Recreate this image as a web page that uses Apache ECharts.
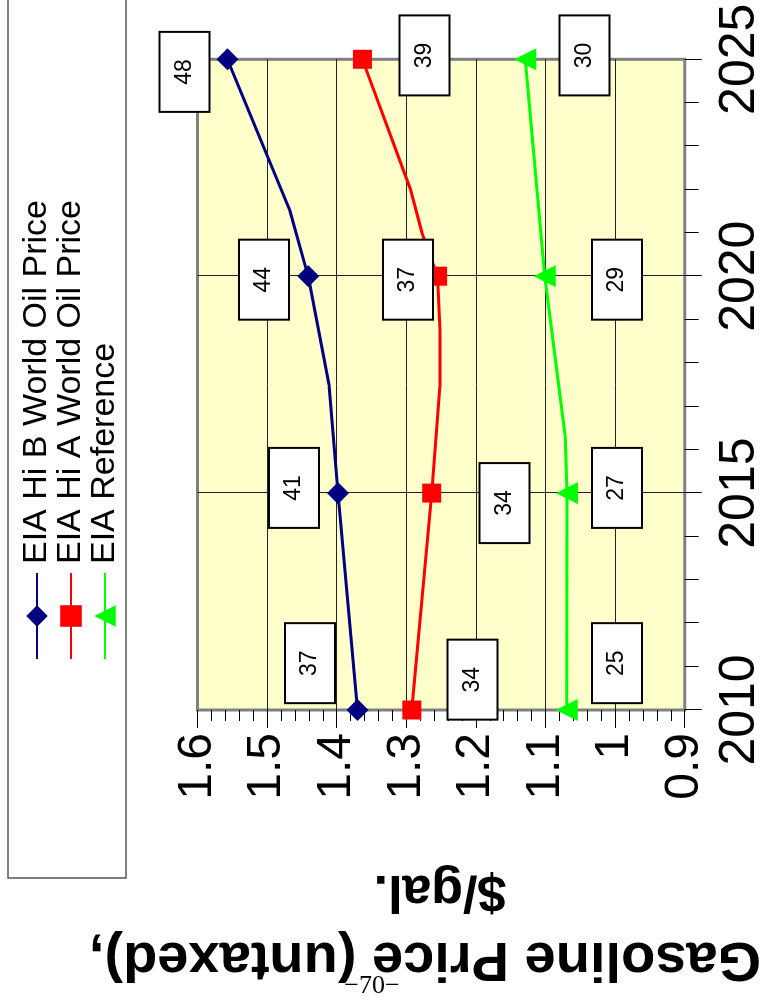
<!DOCTYPE html>
<html><head><meta charset="utf-8">
<script src="https://cdn.jsdelivr.net/npm/echarts@6/dist/echarts.min.js"></script>
<style>
html,body{margin:0;padding:0;background:#fff;overflow:hidden;width:780px;height:1001px;}
#wrap{position:absolute;left:0;top:0;width:1001px;height:780px;transform-origin:0 0;transform:translate(0,1001px) rotate(-90deg);}
</style></head><body>
<div id="wrap"></div>
<script>
const seriesNames = ['EIA Hi B World Oil Price', 'EIA Hi A World Oil Price', 'EIA Reference'];
const markerYears = [2010, 2015, 2020, 2025];
const hiBYears = [2010, 2015, 2017.5, 2020, 2021.5, 2025];
const hiBPrices = [1.370, 1.398, 1.411, 1.441, 1.467, 1.557];
const hiAYears = [2010, 2015, 2017.5, 2018.75, 2020, 2021, 2022, 2025];
const hiAPrices = [1.292, 1.2635, 1.2515, 1.2515, 1.255, 1.2775, 1.294, 1.363];
const refYears = [2010, 2015, 2016.3, 2020, 2025];
const refPrices = [1.0695, 1.069, 1.0715, 1.101, 1.129];
const boxTexts = ['37', '34', '25', '41', '34', '27', '44', '37', '29', '48', '39', '30'];
const boxYears = [2011.08, 2010.70, 2011.08, 2015.12, 2014.77, 2015.12, 2019.92, 2019.92, 2019.92, 2024.71, 2025.09, 2025.09];
const boxPrices = [1.4384, 1.2049, 0.9973, 1.4613, 1.1589, 0.9973, 1.5045, 1.2976, 0.9973, 1.6187, 1.2739, 1.0440];
const yTitleLine1 = 'Gasoline Price (untaxed),';
const yTitleLine2 = '$/gal.';
const pageNumber = '\u221270\u2212';

const FONT = '"Liberation Sans", Arial, sans-serif';
function mk(years, prices) {
  return years.map((y, i) => markerYears.includes(y) ? [y, prices[i]] : { value: [y, prices[i]], symbol: 'none' });
}
const chart = echarts.init(document.getElementById('wrap'), null, { renderer: 'canvas', width: 1001, height: 780 });
const colors = ['#000080', '#ff0000', '#00ff00'];
const option = {
  animation: false,
  textStyle: { fontFamily: FONT },
  grid: { left: 291, right: 59.3, top: 197.5, bottom: 95.3, show: true, backgroundColor: '#ffffcc', borderColor: '#808080', borderWidth: 3 },
  legend: {
    data: seriesNames, orient: 'vertical', left: 341, top: 20, padding: 0, itemWidth: 86, itemHeight: 27, itemGap: 0,
    textStyle: { fontSize: 34, lineHeight: 30.5, color: '#000', fontFamily: FONT, padding: [0, 0, 0, 4] }
  },
  xAxis: {
    type: 'value', min: 2010, max: 2025, interval: 5,
    axisLine: { show: false },
    axisTick: { show: true, length: 17, lineStyle: { color: '#000', width: 1 } },
    minorTick: { show: true, splitNumber: 5, length: 14, lineStyle: { color: '#000', width: 1 } },
    splitLine: { show: true, showMinLine: false, showMaxLine: false, lineStyle: { color: '#222', width: 1 } },
    axisLabel: { fontSize: 50, color: '#000', margin: 31, fontFamily: FONT, formatter: v => String(v) }
  },
  yAxis: {
    type: 'value', min: 0.9, max: 1.6, interval: 0.1,
    axisLine: { show: false },
    axisTick: { show: true, length: 18, lineStyle: { color: '#000', width: 1 } },
    minorTick: { show: true, splitNumber: 5, length: 11, lineStyle: { color: '#000', width: 1 } },
    splitLine: { show: true, showMinLine: false, showMaxLine: false, lineStyle: { color: '#222', width: 1 } },
    axisLabel: { fontSize: 48, color: '#000', margin: 23, fontFamily: FONT, formatter: v => String(+v.toFixed(1)) }
  },
  series: [
    { name: seriesNames[0], type: 'line', data: mk(hiBYears, hiBPrices), symbol: 'diamond', symbolSize: 22, color: colors[0], lineStyle: { width: 3 }, z: 3 },
    { name: seriesNames[1], type: 'line', data: mk(hiAYears, hiAPrices), symbol: 'rect', symbolSize: 19, color: colors[1], lineStyle: { width: 3 }, z: 3 },
    { name: seriesNames[2], type: 'line', data: mk(refYears, refPrices), symbol: 'triangle', symbolSize: 22, color: colors[2], lineStyle: { width: 3 }, z: 3 },
    {
      name: 'labels', type: 'scatter', clip: false, z: 5, symbol: 'rect', symbolSize: 1,
      itemStyle: { color: 'rgba(0,0,0,0)', opacity: 1 },
      data: boxYears.map((y, i) => [y, boxPrices[i], boxTexts[i]]),
      label: {
        show: true, position: 'inside', formatter: p => p.data[2], opacity: 1,
        backgroundColor: '#fff', borderColor: '#000', borderWidth: 2, width: 78, height: 48, lineHeight: 48,
        align: 'center', verticalAlign: 'middle', fontSize: 23, color: '#000', fontFamily: FONT, padding: 0,
        textBorderWidth: 0, shadowBlur: 0
      },
      emphasis: { disabled: true }
    }
  ],
  graphic: [
    { type: 'rect', z: 0, shape: { x: 123, y: 8, width: 900, height: 118 }, style: { fill: '#fff', stroke: '#555', lineWidth: 1.5 } },
    { type: 'text', x: 43, y: 425, rotation: Math.PI / 2, style: { text: yTitleLine1, font: 'bold 56px ' + FONT, align: 'center', verticalAlign: 'middle', fill: '#000' } },
    { type: 'text', x: 111, y: 440, rotation: Math.PI / 2, style: { text: yTitleLine2, font: 'bold 52px ' + FONT, align: 'center', verticalAlign: 'middle', fill: '#000' } },
    { type: 'text', x: 15, y: 372, rotation: -Math.PI / 2, style: { text: pageNumber, font: '26px "Liberation Serif", serif', align: 'center', verticalAlign: 'middle', fill: '#000' } }
  ]
};
chart.setOption(option);
</script>
</body></html>
